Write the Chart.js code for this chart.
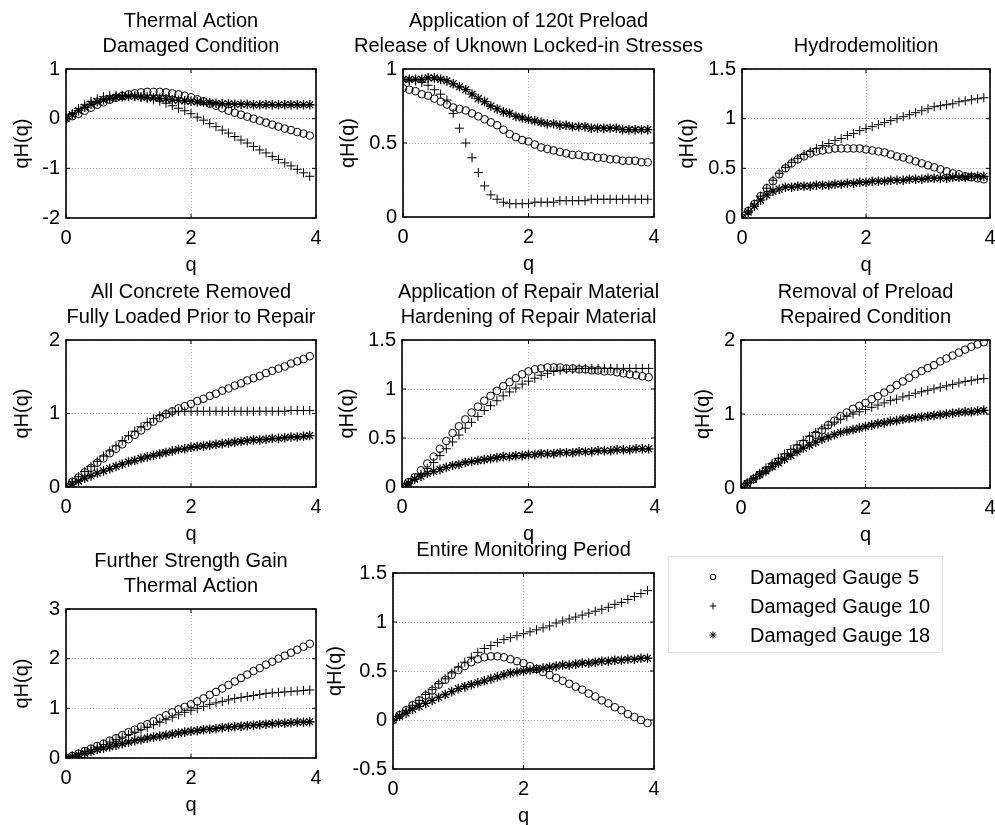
<!DOCTYPE html>
<html>
<head>
<meta charset="utf-8">
<script src="https://cdn.jsdelivr.net/npm/chart.js@4.4.1/dist/chart.umd.min.js"></script>
<style>
  html, body { margin: 0; padding: 0; background: #fff; }
  #fig { position: relative; width: 995px; height: 825px; overflow: hidden; }
  #fig canvas { position: absolute; }
</style>
</head>
<body>
<div id="fig"></div>
<script>
// q grid shared by every panel
const qValues = [0,0.1,0.2,0.3,0.4,0.5,0.6,0.7,0.8,0.9,1,1.1,1.2,1.3,1.4,1.5,1.6,1.7,1.8,1.9,
                 2,2.1,2.2,2.3,2.4,2.5,2.6,2.7,2.8,2.9,3,3.1,3.2,3.3,3.4,3.5,3.6,3.7,3.8,3.9];

const seriesLabels = ['Damaged Gauge 5', 'Damaged Gauge 10', 'Damaged Gauge 18'];

const panelTitles = [
  ['Thermal Action', 'Damaged Condition'],
  ['Application of 120t Preload', 'Release of Uknown Locked-in Stresses'],
  ['Hydrodemolition'],
  ['All Concrete Removed', 'Fully Loaded Prior to Repair'],
  ['Application of Repair Material', 'Hardening of Repair Material'],
  ['Removal of Preload', 'Repaired Condition'],
  ['Further Strength Gain', 'Thermal Action'],
  ['Entire Monitoring Period']
];

const xTickStep = 2;
const yMins  = [-2, 0, 0,   0, 0,   0, 0, -0.5];
const yMaxs  = [ 1, 1, 1.5, 2, 1.5, 2, 3,  1.5];
const ySteps = [ 1, 0.5, 0.5, 1, 0.5, 1, 1, 0.5];

// qH(q), one list per panel
const gauge5 = [
  [0,0.05,0.1,0.16,0.22,0.28,0.33,0.38,0.42,0.46,0.49,0.51,0.53,0.54,0.54,0.54,0.53,0.51,0.49,0.46,
   0.43,0.39,0.35,0.3,0.26,0.21,0.16,0.12,0.08,0.04,0,-0.04,-0.08,-0.12,-0.16,-0.2,-0.23,-0.27,-0.3,-0.34],
  [0.87,0.86,0.85,0.83,0.82,0.8,0.78,0.76,0.74,0.73,0.72,0.7,0.68,0.66,0.64,0.62,0.59,0.56,0.54,0.52,
   0.51,0.49,0.47,0.46,0.45,0.44,0.43,0.42,0.42,0.41,0.41,0.4,0.4,0.39,0.39,0.38,0.38,0.38,0.37,0.37],
  [0,0.07,0.14,0.22,0.3,0.37,0.44,0.5,0.55,0.59,0.62,0.65,0.67,0.68,0.69,0.7,0.7,0.7,0.7,0.7,
   0.69,0.68,0.67,0.66,0.64,0.62,0.61,0.59,0.57,0.55,0.53,0.51,0.49,0.47,0.45,0.44,0.42,0.41,0.4,0.39],
  [0,0.07,0.13,0.2,0.26,0.33,0.39,0.46,0.52,0.58,0.65,0.71,0.77,0.83,0.89,0.94,0.99,1.03,1.07,1.1,
   1.13,1.17,1.2,1.24,1.27,1.31,1.34,1.38,1.41,1.45,1.48,1.51,1.55,1.58,1.61,1.64,1.68,1.71,1.74,1.78],
  [0,0.05,0.1,0.17,0.24,0.31,0.39,0.47,0.55,0.62,0.69,0.76,0.82,0.88,0.93,0.98,1.03,1.07,1.11,1.15,
   1.18,1.2,1.21,1.22,1.22,1.22,1.21,1.21,1.2,1.2,1.19,1.19,1.18,1.18,1.17,1.16,1.15,1.14,1.13,1.12],
  [0,0.06,0.12,0.18,0.24,0.3,0.36,0.42,0.48,0.54,0.6,0.66,0.72,0.78,0.85,0.91,0.97,1.02,1.07,1.11,
   1.15,1.2,1.24,1.29,1.34,1.39,1.44,1.49,1.54,1.58,1.62,1.66,1.71,1.75,1.79,1.83,1.87,1.91,1.94,1.97],
  [0,0.04,0.09,0.14,0.19,0.24,0.29,0.35,0.4,0.46,0.52,0.57,0.63,0.68,0.74,0.8,0.86,0.92,0.98,1.03,
   1.08,1.14,1.2,1.27,1.33,1.4,1.47,1.54,1.61,1.68,1.75,1.81,1.88,1.94,2,2.06,2.12,2.18,2.24,2.3],
  [0,0.05,0.1,0.15,0.2,0.25,0.3,0.36,0.41,0.46,0.51,0.55,0.59,0.62,0.64,0.65,0.65,0.64,0.62,0.6,
   0.58,0.55,0.52,0.49,0.46,0.43,0.4,0.37,0.34,0.31,0.27,0.24,0.2,0.17,0.13,0.1,0.06,0.03,0,-0.03]
];

const gauge10 = [
  [0,0.1,0.2,0.28,0.35,0.4,0.44,0.46,0.47,0.47,0.46,0.45,0.43,0.41,0.38,0.35,0.31,0.26,0.21,0.16,
   0.1,0.03,-0.03,-0.1,-0.16,-0.23,-0.29,-0.36,-0.43,-0.49,-0.56,-0.63,-0.69,-0.76,-0.82,-0.89,-0.95,-1.02,-1.09,-1.16],
  [0.93,0.92,0.92,0.91,0.89,0.86,0.83,0.79,0.7,0.6,0.5,0.4,0.3,0.21,0.15,0.12,0.1,0.09,0.09,0.09,
   0.09,0.1,0.1,0.1,0.1,0.11,0.11,0.11,0.11,0.11,0.12,0.12,0.12,0.12,0.12,0.12,0.12,0.12,0.12,0.12],
  [0,0.07,0.14,0.22,0.3,0.38,0.45,0.51,0.56,0.6,0.64,0.67,0.7,0.73,0.75,0.78,0.8,0.83,0.85,0.88,
   0.9,0.92,0.94,0.96,0.98,1,1.02,1.04,1.06,1.08,1.1,1.12,1.13,1.14,1.15,1.17,1.18,1.19,1.2,1.21],
  [0,0.07,0.14,0.21,0.28,0.35,0.42,0.49,0.56,0.63,0.7,0.76,0.82,0.88,0.93,0.97,1,1.02,1.03,1.03,
   1.03,1.03,1.03,1.03,1.03,1.03,1.03,1.03,1.03,1.03,1.03,1.03,1.03,1.03,1.03,1.03,1.04,1.04,1.04,1.04],
  [0,0.04,0.08,0.13,0.19,0.25,0.32,0.39,0.46,0.53,0.6,0.66,0.72,0.78,0.83,0.88,0.93,0.97,1.01,1.05,
   1.08,1.11,1.14,1.16,1.18,1.19,1.2,1.2,1.21,1.21,1.21,1.21,1.21,1.21,1.21,1.21,1.21,1.21,1.21,1.21],
  [0,0.07,0.13,0.2,0.27,0.33,0.4,0.46,0.52,0.58,0.64,0.7,0.75,0.8,0.85,0.89,0.93,0.97,1,1.03,
   1.06,1.09,1.12,1.15,1.18,1.2,1.23,1.25,1.28,1.3,1.32,1.34,1.36,1.38,1.4,1.42,1.44,1.45,1.47,1.48],
  [0,0.04,0.08,0.13,0.17,0.22,0.27,0.32,0.37,0.42,0.47,0.52,0.57,0.62,0.67,0.72,0.77,0.82,0.87,0.92,
   0.96,1,1.04,1.08,1.11,1.14,1.17,1.2,1.22,1.24,1.26,1.28,1.3,1.31,1.32,1.33,1.34,1.35,1.36,1.37],
  [0,0.05,0.1,0.15,0.2,0.26,0.31,0.37,0.42,0.48,0.54,0.59,0.64,0.69,0.73,0.76,0.79,0.82,0.84,0.86,
   0.88,0.9,0.92,0.94,0.96,0.99,1.01,1.03,1.05,1.07,1.09,1.11,1.13,1.15,1.18,1.2,1.23,1.26,1.29,1.32]
];

const gauge18 = [
  [0,0.08,0.16,0.23,0.29,0.34,0.38,0.41,0.43,0.44,0.45,0.45,0.44,0.43,0.42,0.41,0.4,0.38,0.37,0.36,
   0.35,0.34,0.33,0.32,0.31,0.3,0.3,0.29,0.29,0.29,0.28,0.28,0.28,0.28,0.28,0.28,0.28,0.28,0.28,0.28],
  [0.93,0.93,0.93,0.93,0.94,0.94,0.93,0.92,0.9,0.88,0.86,0.83,0.8,0.78,0.75,0.73,0.71,0.7,0.68,0.67,
   0.66,0.65,0.64,0.63,0.63,0.62,0.62,0.61,0.61,0.61,0.6,0.6,0.6,0.6,0.6,0.59,0.59,0.59,0.59,0.59],
  [0,0.06,0.12,0.18,0.23,0.27,0.29,0.31,0.31,0.32,0.32,0.32,0.33,0.33,0.33,0.34,0.34,0.35,0.35,0.36,
   0.36,0.37,0.37,0.37,0.38,0.38,0.38,0.39,0.39,0.39,0.4,0.4,0.4,0.4,0.41,0.41,0.41,0.42,0.42,0.42],
  [0,0.04,0.08,0.12,0.15,0.19,0.22,0.25,0.28,0.31,0.34,0.36,0.39,0.41,0.43,0.45,0.47,0.49,0.51,0.52,
   0.54,0.55,0.56,0.57,0.58,0.59,0.6,0.61,0.62,0.63,0.64,0.64,0.65,0.66,0.66,0.67,0.68,0.68,0.69,0.7],
  [0,0.04,0.08,0.11,0.14,0.16,0.18,0.2,0.22,0.23,0.25,0.26,0.27,0.28,0.29,0.3,0.31,0.31,0.32,0.32,
   0.33,0.33,0.34,0.34,0.34,0.35,0.35,0.35,0.36,0.36,0.36,0.37,0.37,0.37,0.38,0.38,0.38,0.39,0.39,0.39],
  [0,0.06,0.12,0.18,0.23,0.29,0.34,0.39,0.44,0.49,0.54,0.58,0.62,0.66,0.69,0.72,0.75,0.77,0.79,0.81,
   0.83,0.85,0.87,0.88,0.9,0.91,0.93,0.94,0.95,0.96,0.97,0.98,0.99,1,1.01,1.02,1.03,1.03,1.04,1.05],
  [0,0.03,0.07,0.1,0.13,0.17,0.2,0.23,0.26,0.29,0.32,0.35,0.37,0.4,0.42,0.44,0.46,0.48,0.5,0.52,
   0.54,0.55,0.57,0.58,0.59,0.61,0.62,0.63,0.64,0.65,0.66,0.67,0.68,0.69,0.7,0.7,0.71,0.72,0.72,0.73],
  [0,0.04,0.07,0.11,0.14,0.17,0.2,0.23,0.26,0.29,0.32,0.34,0.36,0.38,0.4,0.42,0.44,0.46,0.48,0.49,
   0.5,0.51,0.52,0.53,0.54,0.55,0.56,0.56,0.57,0.58,0.58,0.59,0.6,0.6,0.61,0.61,0.62,0.62,0.63,0.63]
];

// page layout: plot-area box of each panel and distance from plot edge to the ylabel centre
const panelBoxes = [
  { left: 66,  top: 69,  width: 250, height: 149, yTitleGap: 44 },
  { left: 403, top: 69,  width: 251, height: 148, yTitleGap: 55 },
  { left: 742, top: 69,  width: 248, height: 149, yTitleGap: 55 },
  { left: 66,  top: 340, width: 250, height: 147, yTitleGap: 44 },
  { left: 402, top: 340, width: 253, height: 147, yTitleGap: 55 },
  { left: 741, top: 340, width: 249, height: 148, yTitleGap: 38 },
  { left: 66,  top: 609, width: 250, height: 149, yTitleGap: 44 },
  { left: 393, top: 573, width: 261, height: 196, yTitleGap: 58 }
];
const legendBox = { left: 668, top: 556, width: 275, height: 97 };

const FAMILY = '"Liberation Sans", Arial, Helvetica, sans-serif';
const FONT_SIZE = 20;
const LINE_H = FONT_SIZE * 1.2;
const PAD_TOP = 64, PAD_RIGHT = 70, X_AXIS_H = 62;

const markerStyles = [
  { pointStyle: 'circle', pointRadius: 3.8, pointBorderWidth: 1, order: 2 },
  { pointStyle: 'cross',  pointRadius: 4.6, pointBorderWidth: 1, order: 1 },
  { pointStyle: 'star',   pointRadius: 4.8, pointBorderWidth: 1.3, order: 0 }
];

const framePlugin = {
  id: 'frame',
  afterDraw(chart) {
    const { ctx, chartArea: a, scales } = chart;
    ctx.save();
    ctx.strokeStyle = '#000';
    ctx.lineWidth = 1;
    ctx.beginPath();
    scales.x.ticks.forEach(t => {
      const px = scales.x.getPixelForValue(t.value);
      ctx.moveTo(px, a.bottom); ctx.lineTo(px, a.bottom - 4);
      ctx.moveTo(px, a.top); ctx.lineTo(px, a.top + 4);
    });
    scales.y.ticks.forEach(t => {
      const py = scales.y.getPixelForValue(t.value);
      ctx.moveTo(a.left, py); ctx.lineTo(a.left + 4, py);
      ctx.moveTo(a.right, py); ctx.lineTo(a.right - 4, py);
    });
    ctx.stroke();
    ctx.lineWidth = 1.6;
    ctx.strokeRect(a.left, a.top, a.right - a.left, a.bottom - a.top);
    ctx.restore();
  }
};

// titles centred over the plot area, like the original subplot titles
const panelTitlePlugin = {
  id: 'panelTitle',
  afterDraw(chart, args, opts) {
    const { ctx, chartArea: a } = chart;
    const lines = opts.lines || [];
    const cx = (a.left + a.right) / 2;
    ctx.save();
    ctx.fillStyle = '#000';
    ctx.font = FONT_SIZE + 'px ' + FAMILY;
    ctx.textAlign = 'center';
    ctx.textBaseline = 'middle';
    lines.forEach((line, k) => {
      ctx.fillText(line, cx, a.top - 23 - (lines.length - 1 - k) * 25);
    });
    ctx.restore();
  }
};

function addCanvas(left, top, w, h) {
  const c = document.createElement('canvas');
  c.width = w; c.height = h;
  c.style.left = left + 'px'; c.style.top = top + 'px';
  c.style.width = w + 'px'; c.style.height = h + 'px';
  document.getElementById('fig').appendChild(c);
  return c;
}

function makePanel(i) {
  const box = panelBoxes[i];
  const yAxisW = Math.round(box.yTitleGap + LINE_H / 2);
  const w = yAxisW + box.width + PAD_RIGHT;
  const h = PAD_TOP + box.height + X_AXIS_H;
  const canvas = addCanvas(box.left - yAxisW, box.top - PAD_TOP, w, h);
  const font = { family: FAMILY, size: FONT_SIZE };
  const series = [gauge5[i], gauge10[i], gauge18[i]];

  new Chart(canvas.getContext('2d'), {
    type: 'scatter',
    data: {
      datasets: series.map((vals, s) => Object.assign({
        label: seriesLabels[s],
        data: qValues.map((q, k) => ({ x: q, y: vals[k] })),
        borderColor: '#000',
        backgroundColor: 'rgba(0,0,0,0)',
        pointBorderColor: '#000',
        pointBackgroundColor: 'rgba(0,0,0,0)',
        showLine: false
      }, markerStyles[s]))
    },
    options: {
      responsive: false, animation: false, devicePixelRatio: 1, events: [],
      layout: { padding: { left: 0, top: PAD_TOP, right: PAD_RIGHT, bottom: 0 } },
      plugins: {
        legend: { display: false }, tooltip: { enabled: false },
        panelTitle: { lines: panelTitles[i] }
      },
      scales: {
        x: {
          type: 'linear', min: 0, max: 4,
          ticks: { stepSize: xTickStep, color: '#000', font, padding: 8, maxRotation: 0 },
          grid: { color: '#a8a8a8', lineWidth: 1, drawTicks: false },
          border: { display: false, dash: [1, 2] },
          title: { display: true, text: 'q', color: '#000', font, padding: { top: 0, bottom: 3 } },
          afterFit: s => { s.height = X_AXIS_H; }
        },
        y: {
          type: 'linear', min: yMins[i], max: yMaxs[i],
          ticks: { stepSize: ySteps[i], color: '#000', font, padding: 6,
                   callback: v => String(+(+v).toFixed(2)) },
          grid: { color: '#a8a8a8', lineWidth: 1, drawTicks: false },
          border: { display: false, dash: [1, 2] },
          title: { display: true, text: 'qH(q)', color: '#000', font, padding: 0 },
          afterFit: s => { s.width = yAxisW; }
        }
      }
    },
    plugins: [framePlugin, panelTitlePlugin]
  });
}

for (let i = 0; i < panelBoxes.length; i++) makePanel(i);

// legend panel: boxed list of the three marker styles
const legendPlugin = {
  id: 'markerLegend',
  afterDraw(chart) {
    const { ctx, width, height } = chart;
    ctx.save();
    ctx.strokeStyle = '#dde5e8';
    ctx.lineWidth = 1;
    ctx.strokeRect(0.5, 0.5, width - 1, height - 1);
    ctx.font = FONT_SIZE + 'px ' + FAMILY;
    ctx.textBaseline = 'middle';
    chart.data.datasets.forEach((ds, k) => {
      const y = 21 + k * 29;
      ctx.strokeStyle = '#000';
      ctx.fillStyle = ds.pointStyle === 'circle' ? 'rgba(0,0,0,0)' : '#000';
      Chart.helpers.drawPoint(ctx, {
        pointStyle: ds.pointStyle, radius: ds.pointRadius * 0.72,
        borderWidth: 1, rotation: 0
      }, 45, y);
      ctx.fillStyle = '#000';
      ctx.fillText(ds.label, 82, y + 1);
    });
    ctx.restore();
  }
};

const legendCanvas = addCanvas(legendBox.left, legendBox.top, legendBox.width, legendBox.height);
new Chart(legendCanvas.getContext('2d'), {
  type: 'scatter',
  data: { datasets: seriesLabels.map((label, s) => Object.assign({ label, data: [] }, markerStyles[s])) },
  options: {
    responsive: false, animation: false, devicePixelRatio: 1, events: [],
    plugins: { legend: { display: false }, tooltip: { enabled: false } },
    scales: { x: { display: false }, y: { display: false } }
  },
  plugins: [legendPlugin]
});
</script>
</body>
</html>
